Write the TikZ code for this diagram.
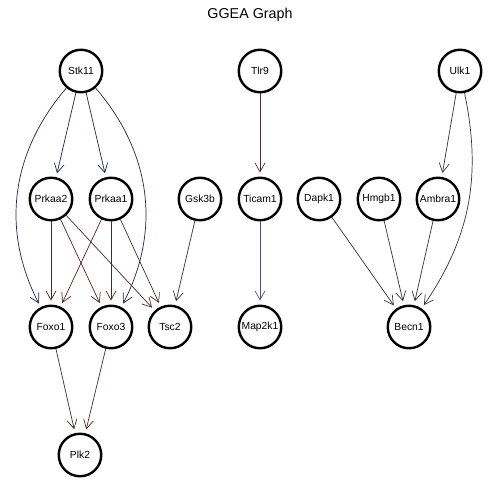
\documentclass[tikz,border=0pt]{standalone}
\usepackage{fontspec}
\setmainfont{Liberation Sans}
\usetikzlibrary{arrows.meta}
\definecolor{eblue}{RGB}{35,35,80}
\definecolor{ered}{RGB}{90,35,35}
\definecolor{ebrown}{RGB}{70,45,45}
\definecolor{egray}{RGB}{55,50,50}
\definecolor{eslate}{RGB}{80,80,115}
\begin{document}
\begin{tikzpicture}[x=1pt,y=-1pt,
  gene/.style={circle,draw=black,line width=2.4pt,minimum size=42.5pt,inner sep=0pt,
    font=\fontsize{10.3}{12}\selectfont},
  edge/.style={line width=0.7pt,shorten >=4pt,
    -{Straight Barb[length=9pt,width=10pt,line width=0.7pt]}},
  title/.style={font=\fontsize{14.3}{16}\selectfont}]
\useasboundingbox (0,0) rectangle (500,500);
\fill[white] (0,0) rectangle (500,500);
\node[title] (ttl) at (250,15) {GGEA Graph};
% top row
\node[gene] (stk11) at (81,71) {Stk11};
\node[gene] (tlr9) at (260,71) {Tlr9};
\node[gene] (ulk1) at (460,71) {Ulk1};
% second row
\node[gene] (prkaa2) at (51,199) {Prkaa2};
\node[gene] (prkaa1) at (111,199) {Prkaa1};
\node[gene] (gsk3b) at (200,199) {Gsk3b};
\node[gene] (ticam1) at (260,199) {Ticam1};
\node[gene] (dapk1) at (319,199) {Dapk1};
\node[gene] (hmgb1) at (379,199) {Hmgb1};
\node[gene] (ambra1) at (438,199) {Ambra1};
% third row
\node[gene] (foxo1) at (51,327) {Foxo1};
\node[gene] (foxo3) at (111,327) {Foxo3};
\node[gene] (tsc2) at (170,327) {Tsc2};
\node[gene] (map2k1) at (260,327) {Map2k1};
\node[gene] (becn1) at (409,327) {Becn1};
% bottom row
\node[gene] (plk2) at (80,455) {Plk2};
% edges
\draw[edge,eblue] (stk11) -- (prkaa2);
\draw[edge,eblue] (stk11) -- (prkaa1);
\draw[edge,eblue] (stk11) to[bend right=34] (foxo1);
\draw[edge,eblue] (stk11) to[bend left=34] (foxo3);
\draw[edge,ered] (prkaa2) -- (foxo1);
\draw[edge,ered] (prkaa2) -- (foxo3);
\draw[edge,ered] (prkaa2) -- (tsc2);
\draw[edge,ered] (prkaa1) -- (foxo1);
\draw[edge,ered] (prkaa1) -- (foxo3);
\draw[edge,ebrown] (prkaa1) -- (tsc2);
\draw[edge,egray] (gsk3b) -- (tsc2);
\draw[edge,ebrown] (tlr9) -- (ticam1);
\draw[edge,eslate] (ticam1) -- (map2k1);
\draw[edge,egray] (ulk1) -- (ambra1);
\draw[edge,egray] (ulk1) to[bend left=23] (becn1);
\draw[edge,egray] (dapk1) -- (becn1);
\draw[edge,egray] (hmgb1) -- (becn1);
\draw[edge,egray] (ambra1) -- (becn1);
\draw[edge,ebrown] (foxo1) -- (plk2);
\draw[edge,ebrown] (foxo3) -- (plk2);
\end{tikzpicture}
\end{document}
